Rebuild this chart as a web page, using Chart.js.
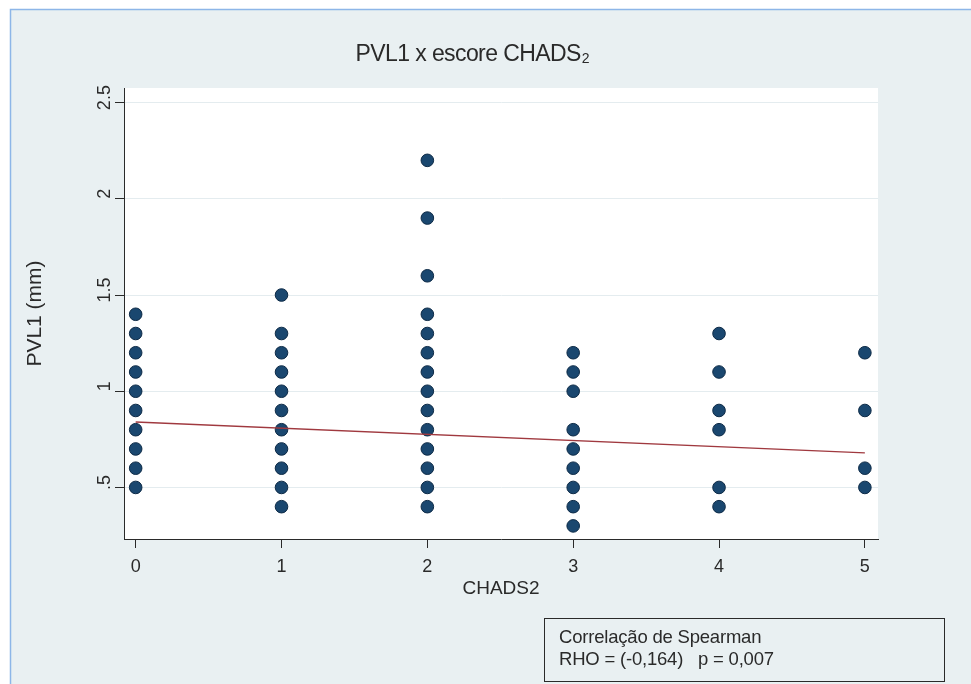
<!DOCTYPE html>
<html>
<head>
<meta charset="utf-8">
<script src="https://cdn.jsdelivr.net/npm/chart.js@4.4.1/dist/chart.umd.min.js"></script>
<style>
  html, body { margin: 0; padding: 0; background: #ffffff; }
  #wrap { width: 971px; height: 684px; position: relative; }
</style>
</head>
<body>
<div id="wrap"><canvas id="c" width="971" height="684"></canvas></div>
<script>
// CHADS2 score categories (x) and PVL1 measurements (mm) observed at each score
const chadsScores = [0, 1, 2, 3, 4, 5];
const pvlScore0 = [1.4, 1.3, 1.2, 1.1, 1.0, 0.9, 0.8, 0.7, 0.6, 0.5];
const pvlScore1 = [1.5, 1.3, 1.2, 1.1, 1.0, 0.9, 0.8, 0.7, 0.6, 0.5, 0.4];
const pvlScore2 = [2.2, 1.9, 1.6, 1.4, 1.3, 1.2, 1.1, 1.0, 0.9, 0.8, 0.7, 0.6, 0.5, 0.4];
const pvlScore3 = [1.2, 1.1, 1.0, 0.8, 0.7, 0.6, 0.5, 0.4, 0.3];
const pvlScore4 = [1.3, 1.1, 0.9, 0.8, 0.5, 0.4];
const pvlScore5 = [1.2, 0.9, 0.6, 0.5];

// Linear fit end points
const fitX = [0, 5];
const fitY = [0.84, 0.68];

// Axis ticks
const xTickValues = [0, 1, 2, 3, 4, 5];
const yTickValues = [0.5, 1, 1.5, 2, 2.5];
const yTickLabels = ['.5', '1', '1.5', '2', '2.5'];

const pvlByScore = [pvlScore0, pvlScore1, pvlScore2, pvlScore3, pvlScore4, pvlScore5];
const scatterPoints = [];
pvlByScore.forEach((vals, i) => vals.forEach(v => scatterPoints.push({ x: chadsScores[i], y: v })));
const fitPoints = fitX.map((x, i) => ({ x: x, y: fitY[i] }));

const FONT = '"Liberation Sans", Arial, sans-serif';
const INK = '#2a2a2a';
const PANEL = '#e9f0f2';

const framePlugin = {
  id: 'frame',
  beforeDraw(chart) {
    const ctx = chart.ctx;
    const a = chart.chartArea;
    ctx.save();
    ctx.fillStyle = '#ffffff';
    ctx.fillRect(0, 0, chart.width, chart.height);
    ctx.fillStyle = PANEL;
    ctx.fillRect(10, 9, chart.width - 10, chart.height - 9);
    ctx.strokeStyle = '#8db6e8';
    ctx.lineWidth = 1.5;
    ctx.beginPath();
    ctx.moveTo(10.5, chart.height);
    ctx.lineTo(10.5, 9.5);
    ctx.lineTo(chart.width, 9.5);
    ctx.stroke();
    ctx.fillStyle = '#ffffff';
    ctx.fillRect(a.left, a.top, a.right - a.left, a.bottom - a.top);
    ctx.restore();
  },
  afterDraw(chart) {
    const ctx = chart.ctx;
    const ys = chart.scales.y;
    ctx.save();
    // rotated y tick labels
    ctx.fillStyle = INK;
    ctx.font = '18px ' + FONT;
    ctx.textAlign = 'center';
    ctx.textBaseline = 'alphabetic';
    yTickValues.forEach((v, i) => {
      const py = ys.getPixelForValue(v);
      ctx.save();
      ctx.translate(ys.right - 14, py - 5);
      ctx.rotate(-Math.PI / 2);
      ctx.fillText(yTickLabels[i], 0, 0);
      ctx.restore();
    });
    // title (slightly condensed)
    ctx.textAlign = 'left';
    const main = 'PVL1 x escore CHADS';
    ctx.font = '23px ' + FONT;
    ctx.letterSpacing = '-0.6px';
    const mw = ctx.measureText(main).width;
    ctx.font = '14px ' + FONT;
    ctx.letterSpacing = '0px';
    const sw = ctx.measureText('2').width;
    const x0 = 472 - (mw + sw) / 2;
    ctx.font = '23px ' + FONT;
    ctx.letterSpacing = '-0.6px';
    ctx.fillText(main, x0, 61);
    ctx.letterSpacing = '0px';
    ctx.font = '14px ' + FONT;
    ctx.fillText('2', x0 + mw + 1, 63);
    // statistics box
    ctx.fillStyle = PANEL;
    ctx.fillRect(544, 618, 400, 63);
    ctx.strokeStyle = INK;
    ctx.lineWidth = 1;
    ctx.strokeRect(544.5, 618.5, 400, 63);
    ctx.fillStyle = INK;
    ctx.font = '18.5px ' + FONT;
    ctx.letterSpacing = '-0.2px';
    ctx.fillText('Correlação de Spearman', 559, 643);
    ctx.fillText('RHO = (-0,164)   p = 0,007', 559, 665);
    ctx.restore();
  }
};

new Chart(document.getElementById('c'), {
  type: 'scatter',
  data: {
    datasets: [
      {
        type: 'line',
        data: fitPoints,
        borderColor: '#a0393f',
        borderWidth: 1.3,
        pointRadius: 0,
        fill: false
      },
      {
        data: scatterPoints,
        backgroundColor: '#1a476f',
        borderColor: '#0e2b47',
        borderWidth: 1,
        pointRadius: 6.3,
        pointHoverRadius: 6.3
      }
    ]
  },
  options: {
    responsive: false,
    animation: false,
    devicePixelRatio: 1,
    layout: { padding: { top: 88, right: 93, left: 0, bottom: 0 } },
    plugins: { legend: { display: false }, tooltip: { enabled: false }, title: { display: false } },
    scales: {
      x: {
        type: 'linear',
        min: -0.08,
        max: 5.09,
        afterBuildTicks: s => { s.ticks = xTickValues.map(v => ({ value: v })); },
        afterFit: s => { s.height = 145; },
        ticks: { color: INK, font: { family: FONT, size: 18 }, padding: 8, callback: v => String(v) },
        grid: { drawOnChartArea: false, color: INK, tickColor: INK, tickLength: 9 },
        border: { color: INK, width: 1 },
        title: { display: true, text: 'CHADS2', color: INK, font: { family: FONT, size: 19 }, padding: { top: 0, bottom: 84 } }
      },
      y: {
        type: 'linear',
        min: 0.232,
        max: 2.576,
        afterBuildTicks: s => { s.ticks = yTickValues.map(v => ({ value: v })); },
        afterFit: s => { s.width = 124; },
        ticks: { display: false },
        grid: { color: '#e4ecef', tickColor: INK, tickLength: 9 },
        border: { color: INK, width: 1 },
        title: { display: true, text: 'PVL1 (mm)', color: INK, font: { family: FONT, size: 21 }, padding: { top: 23 } }
      }
    }
  },
  plugins: [framePlugin]
});
</script>
</body>
</html>
